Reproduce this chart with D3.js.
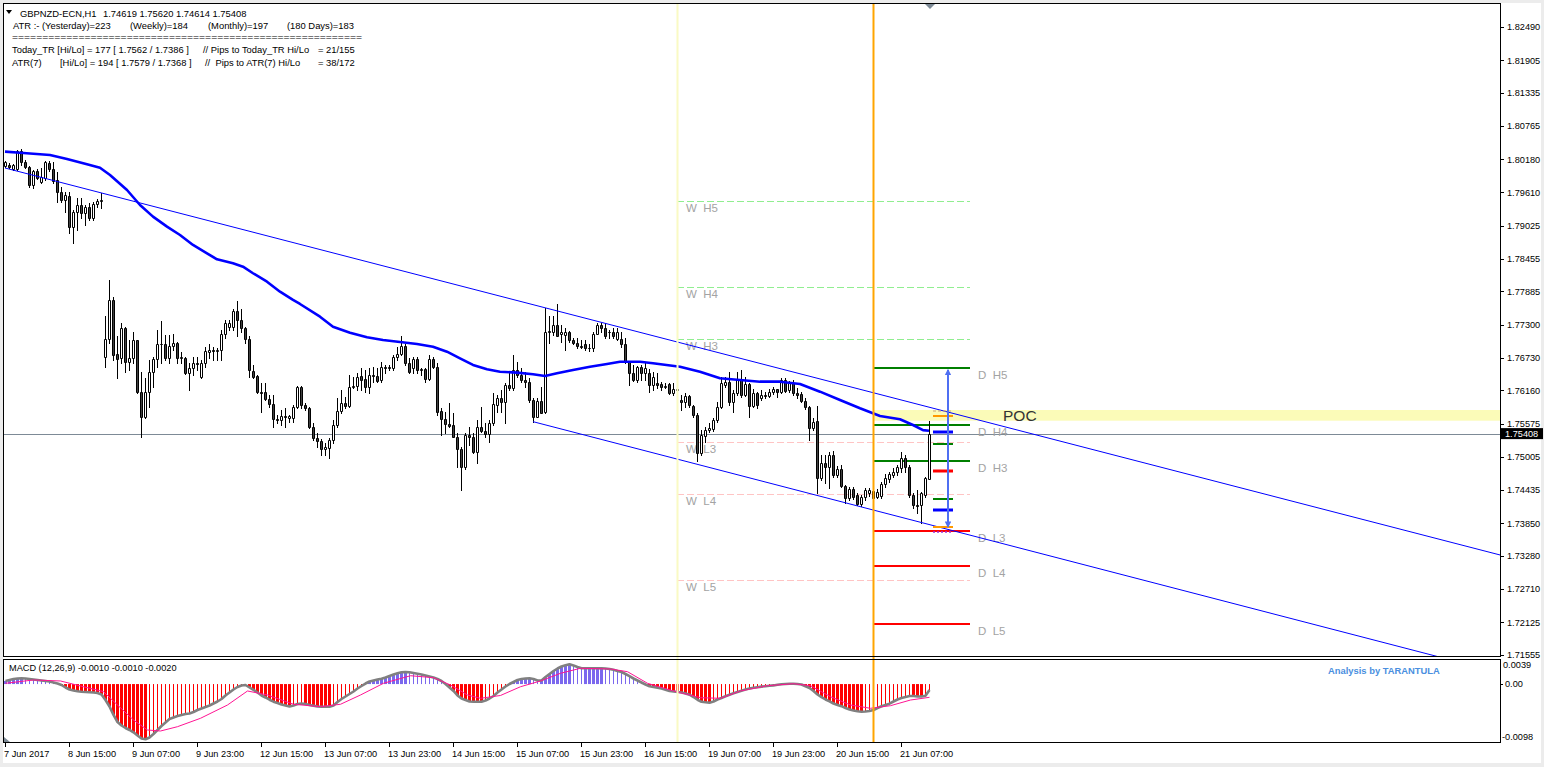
<!DOCTYPE html>
<html><head><meta charset="utf-8"><title>GBPNZD-ECN,H1</title>
<script src="https://cdn.jsdelivr.net/npm/d3@7/dist/d3.min.js"></script>
<style>html,body{margin:0;padding:0;background:#fff;overflow:hidden}
svg text{font-family:"Liberation Sans",Arial,sans-serif}</style></head>
<body><svg id="chart" width="1544" height="767"></svg>
<script>
// ---------------- DATA ----------------
const headerLines = [
  ["GBPNZD-ECN,H1", "1.74619 1.75620 1.74614 1.75408"],
  ["ATR :- (Yesterday)=223", "(Weekly)=184", "(Monthly)=197", "(180 Days)=183"],
  ["=========================================================="],
  ["Today_TR [Hi/Lo] = 177 [ 1.7562 / 1.7386 ]", "// Pips to Today_TR Hi/Lo", "= 21/155"],
  ["ATR(7)", "[Hi/Lo] = 194 [ 1.7579 / 1.7368 ]", "//  Pips to ATR(7) Hi/Lo", "= 38/172"]
];
const macdTitle = "MACD (12,26,9) -0.0010 -0.0010 -0.0020";
const brandText = "Analysis by TARANTULA";

const timeTickBars = [0,16,32,48,64,80,96,112,128,144,160,176,192,208,224];
const timeTickLabels = ["7 Jun 2017","8 Jun 15:00","9 Jun 07:00","9 Jun 23:00","12 Jun 15:00","13 Jun 07:00","13 Jun 23:00","14 Jun 15:00","15 Jun 07:00","15 Jun 23:00","16 Jun 15:00","19 Jun 07:00","19 Jun 23:00","20 Jun 15:00","21 Jun 07:00"];

const priceTicks = [1.82490,1.81905,1.81335,1.80765,1.80180,1.79610,1.79025,1.78455,1.77885,1.77300,1.76730,1.76160,1.75575,1.75005,1.74435,1.73850,1.73280,1.72710,1.72125,1.71555];
const lastPrice = 1.75408;

// MACD axis ticks (units of 0.0001)
const macdTickValues = [39, 0, -98];
const macdTickLabels = ["0.0039", "0.00", "-0.0098"];

// H1 candles [open, high, low, close]
const ohlc = [
[1.8007,1.8016,1.8005,1.8014],[1.8009,1.8012,1.8003,1.8005],[1.8002,1.8010,1.8000,1.8009],[1.8002,1.8035,1.8000,1.8033],[1.8033,1.8036,1.8009,1.8014],
[1.8014,1.8017,1.8003,1.8005],[1.8005,1.8007,1.7970,1.7974],[1.7974,1.8000,1.7968,1.7998],[1.7998,1.8002,1.7984,1.7986],[1.7979,1.8003,1.7977,1.7988],
[1.7986,1.8016,1.7982,1.8014],[1.8012,1.8016,1.7998,1.8002],[1.8002,1.8014,1.7977,1.7981],[1.7982,1.7996,1.7944,1.7961],[1.7961,1.7970,1.7944,1.7947],
[1.7947,1.7961,1.7926,1.7956],[1.7954,1.7961,1.7890,1.7900],[1.7900,1.7930,1.7872,1.7926],[1.7926,1.7951,1.7895,1.7939],[1.7939,1.7951,1.7916,1.7925],
[1.7925,1.7939,1.7904,1.7935],[1.7935,1.7942,1.7912,1.7916],[1.7916,1.7944,1.7912,1.7940],[1.7940,1.7949,1.7935,1.7946],[1.7946,1.7960,1.7933,1.7947],
[1.7675,1.7745,1.7657,1.7706],[1.7706,1.7809,1.7699,1.7773],[1.7773,1.7778,1.7669,1.7678],[1.7680,1.7710,1.7638,1.7671],[1.7673,1.7734,1.7664,1.7725],
[1.7725,1.7727,1.7648,1.7666],[1.7666,1.7704,1.7652,1.7673],[1.7673,1.7717,1.7664,1.7703],[1.7703,1.7704,1.7612,1.7613],[1.7613,1.7648,1.7535,1.7570],
[1.7570,1.7638,1.7568,1.7613],[1.7613,1.7669,1.7587,1.7648],[1.7648,1.7675,1.7622,1.7671],[1.7671,1.7722,1.7657,1.7697],[1.7697,1.7736,1.7664,1.7696],
[1.7696,1.7713,1.7669,1.7673],[1.7673,1.7713,1.7664,1.7694],[1.7694,1.7715,1.7687,1.7699],[1.7699,1.7701,1.7664,1.7673],[1.7673,1.7682,1.7664,1.7675],
[1.7673,1.7675,1.7645,1.7647],[1.7647,1.7664,1.7617,1.7655],[1.7655,1.7675,1.7643,1.7664],[1.7664,1.7675,1.7652,1.7662],[1.7640,1.7669,1.7638,1.7664],
[1.7664,1.7692,1.7657,1.7685],[1.7683,1.7696,1.7673,1.7687],[1.7687,1.7692,1.7669,1.7685],[1.7685,1.7690,1.7669,1.7687],[1.7687,1.7722,1.7669,1.7715],
[1.7715,1.7739,1.7708,1.7734],[1.7727,1.7739,1.7722,1.7734],[1.7727,1.7757,1.7722,1.7755],[1.7755,1.7771,1.7710,1.7739],[1.7739,1.7757,1.7718,1.7724],
[1.7724,1.7727,1.7699,1.7706],[1.7706,1.7710,1.7640,1.7652],[1.7650,1.7661,1.7638,1.7640],[1.7641,1.7643,1.7612,1.7613],[1.7613,1.7629,1.7578,1.7612],
[1.7613,1.7629,1.7599,1.7601],[1.7601,1.7608,1.7587,1.7592],[1.7592,1.7608,1.7552,1.7566],[1.7566,1.7573,1.7559,1.7564],[1.7564,1.7582,1.7556,1.7571],
[1.7571,1.7585,1.7552,1.7570],[1.7568,1.7573,1.7561,1.7571],[1.7568,1.7591,1.7561,1.7587],[1.7587,1.7624,1.7585,1.7622],[1.7622,1.7624,1.7585,1.7591],
[1.7591,1.7594,1.7582,1.7585],[1.7585,1.7587,1.7550,1.7552],[1.7552,1.7559,1.7529,1.7533],[1.7533,1.7542,1.7517,1.7528],[1.7528,1.7531,1.7503,1.7514],
[1.7514,1.7524,1.7503,1.7517],[1.7515,1.7533,1.7498,1.7529],[1.7529,1.7564,1.7524,1.7556],[1.7556,1.7603,1.7552,1.7580],[1.7580,1.7617,1.7577,1.7594],
[1.7594,1.7605,1.7585,1.7589],[1.7589,1.7643,1.7587,1.7622],[1.7622,1.7640,1.7620,1.7624],[1.7624,1.7647,1.7617,1.7640],[1.7641,1.7655,1.7617,1.7634],
[1.7636,1.7652,1.7613,1.7622],[1.7622,1.7655,1.7612,1.7643],[1.7643,1.7657,1.7631,1.7641],[1.7641,1.7655,1.7631,1.7633],[1.7634,1.7666,1.7631,1.7657],
[1.7657,1.7661,1.7647,1.7655],[1.7655,1.7661,1.7652,1.7657],[1.7655,1.7678,1.7652,1.7675],[1.7675,1.7692,1.7669,1.7680],[1.7680,1.7710,1.7678,1.7694],
[1.7694,1.7696,1.7661,1.7664],[1.7664,1.7673,1.7647,1.7648],[1.7655,1.7675,1.7647,1.7671],[1.7671,1.7675,1.7647,1.7652],[1.7652,1.7655,1.7643,1.7654],
[1.7654,1.7655,1.7631,1.7636],[1.7636,1.7678,1.7634,1.7671],[1.7671,1.7675,1.7655,1.7657],[1.7657,1.7664,1.7573,1.7578],[1.7580,1.7585,1.7538,1.7566],
[1.7566,1.7578,1.7542,1.7557],[1.7557,1.7594,1.7552,1.7554],[1.7556,1.7577,1.7535,1.7535],[1.7535,1.7542,1.7482,1.7514],[1.7514,1.7517,1.7442,1.7482],
[1.7482,1.7542,1.7480,1.7538],[1.7538,1.7552,1.7521,1.7535],[1.7535,1.7542,1.7507,1.7508],[1.7508,1.7564,1.7489,1.7552],[1.7552,1.7587,1.7543,1.7545],
[1.7545,1.7559,1.7535,1.7540],[1.7540,1.7564,1.7526,1.7559],[1.7559,1.7612,1.7556,1.7592],[1.7591,1.7608,1.7578,1.7603],[1.7603,1.7617,1.7578,1.7596],
[1.7596,1.7629,1.7559,1.7626],[1.7626,1.7648,1.7617,1.7620],[1.7620,1.7678,1.7617,1.7652],[1.7652,1.7666,1.7640,1.7643],[1.7643,1.7655,1.7631,1.7634],
[1.7634,1.7648,1.7622,1.7631],[1.7631,1.7638,1.7596,1.7599],[1.7599,1.7603,1.7561,1.7570],[1.7570,1.7603,1.7570,1.7598],[1.7598,1.7622,1.7577,1.7577],
[1.7578,1.7759,1.7577,1.7718],[1.7718,1.7745,1.7699,1.7720],[1.7718,1.7746,1.7713,1.7729],[1.7729,1.7767,1.7710,1.7711],[1.7715,1.7729,1.7701,1.7717],
[1.7713,1.7724,1.7687,1.7718],[1.7718,1.7720,1.7701,1.7704],[1.7704,1.7708,1.7696,1.7699],[1.7699,1.7708,1.7690,1.7694],[1.7694,1.7704,1.7690,1.7692],
[1.7696,1.7704,1.7687,1.7690],[1.7690,1.7696,1.7685,1.7689],[1.7689,1.7717,1.7685,1.7715],[1.7715,1.7734,1.7715,1.7729],[1.7729,1.7734,1.7718,1.7724],
[1.7724,1.7734,1.7708,1.7710],[1.7717,1.7722,1.7708,1.7718],[1.7718,1.7724,1.7708,1.7710],[1.7706,1.7724,1.7704,1.7717],[1.7706,1.7718,1.7692,1.7696],
[1.7696,1.7708,1.7664,1.7666],[1.7666,1.7668,1.7626,1.7647],[1.7647,1.7661,1.7633,1.7634],[1.7634,1.7659,1.7631,1.7657],[1.7657,1.7661,1.7634,1.7647],
[1.7647,1.7666,1.7634,1.7655],[1.7647,1.7654,1.7613,1.7626],[1.7626,1.7648,1.7617,1.7640],[1.7629,1.7647,1.7620,1.7626],[1.7627,1.7631,1.7617,1.7622],
[1.7622,1.7629,1.7620,1.7624],[1.7627,1.7629,1.7610,1.7612],[1.7612,1.7629,1.7608,1.7619],[1.7619,1.7622,1.7608,1.7617],[1.7599,1.7608,1.7582,1.7596],
[1.7596,1.7612,1.7587,1.7606],[1.7606,1.7608,1.7587,1.7591],[1.7589,1.7591,1.7570,1.7573],[1.7573,1.7577,1.7494,1.7507],[1.7507,1.7547,1.7503,1.7538],
[1.7536,1.7552,1.7526,1.7547],[1.7547,1.7559,1.7543,1.7550],[1.7549,1.7568,1.7545,1.7564],[1.7564,1.7596,1.7561,1.7587],[1.7587,1.7640,1.7585,1.7629],
[1.7626,1.7640,1.7622,1.7631],[1.7631,1.7648,1.7591,1.7596],[1.7596,1.7617,1.7578,1.7612],[1.7612,1.7648,1.7608,1.7634],[1.7634,1.7652,1.7605,1.7608],
[1.7608,1.7640,1.7606,1.7627],[1.7627,1.7629,1.7570,1.7589],[1.7589,1.7619,1.7587,1.7612],[1.7612,1.7613,1.7585,1.7591],[1.7603,1.7617,1.7599,1.7608],
[1.7608,1.7613,1.7603,1.7606],[1.7606,1.7619,1.7605,1.7613],[1.7613,1.7622,1.7610,1.7619],[1.7619,1.7619,1.7605,1.7613],[1.7613,1.7638,1.7612,1.7634],
[1.7634,1.7638,1.7613,1.7615],[1.7617,1.7633,1.7613,1.7629],[1.7629,1.7634,1.7608,1.7612],[1.7612,1.7620,1.7603,1.7608],[1.7610,1.7613,1.7596,1.7598],
[1.7598,1.7603,1.7584,1.7587],[1.7587,1.7589,1.7529,1.7550],[1.7550,1.7568,1.7547,1.7561],[1.7562,1.7588,1.7438,1.7464],[1.7464,1.7504,1.7460,1.7490],
[1.7490,1.7504,1.7455,1.7483],[1.7483,1.7508,1.7446,1.7504],[1.7504,1.7511,1.7466,1.7469],[1.7469,1.7485,1.7466,1.7480],[1.7480,1.7487,1.7448,1.7450],
[1.7450,1.7452,1.7420,1.7429],[1.7429,1.7448,1.7425,1.7445],[1.7445,1.7448,1.7427,1.7431],[1.7434,1.7438,1.7417,1.7418],[1.7418,1.7434,1.7415,1.7431],
[1.7431,1.7446,1.7425,1.7443],[1.7438,1.7446,1.7432,1.7443],[1.7441,1.7453,1.7422,1.7429],[1.7431,1.7445,1.7429,1.7439],[1.7432,1.7457,1.7429,1.7453],
[1.7453,1.7471,1.7448,1.7464],[1.7462,1.7474,1.7457,1.7471],[1.7469,1.7481,1.7466,1.7474],[1.7474,1.7487,1.7469,1.7483],[1.7481,1.7508,1.7474,1.7499],
[1.7499,1.7504,1.7474,1.7483],[1.7483,1.7487,1.7431,1.7434],[1.7434,1.7438,1.7411,1.7417],[1.7417,1.7443,1.7403,1.7415],[1.7417,1.7439,1.7386,1.7438],
[1.7434,1.7466,1.7431,1.7464],[1.74619,1.75620,1.74614,1.75408]
];

// moving average: [bar, price]
const maPoints = [[0,1.80315],[3.75,1.80297],[11.25,1.80257],[15.5,1.80188],[20.5,1.80096],[23.75,1.80036],[26.25,1.79909],[30.5,1.79648],[33.75,1.79387],[37,1.79184],[40.5,1.79010],[43.75,1.78865],[47,1.78691],[50.5,1.78547],[53,1.78442],[57,1.78373],[59.5,1.78313],[62,1.78199],[65.5,1.78052],[68.75,1.77878],[72,1.77734],[73.75,1.77664],[78.75,1.77443],[82,1.77269],[86.25,1.77165],[90.5,1.77085],[94.5,1.77038],[98.75,1.77003],[103,1.76968],[107,1.76921],[110.5,1.76834],[113.75,1.76719],[117,1.76603],[120.5,1.76528],[123.75,1.76486],[128,1.76469],[132,1.76441],[135,1.76411],[138,1.76458],[142,1.76516],[146.25,1.76573],[150.5,1.76620],[153.75,1.76660],[158.75,1.76660],[162,1.76632],[168.75,1.76573],[173.75,1.76486],[178.75,1.76371],[183.75,1.76342],[188.75,1.76312],[193.75,1.76312],[198.75,1.76272],[203.75,1.76138],[208.75,1.75993],[213.75,1.75849],[218.75,1.75715],[223.75,1.75657],[227,1.75558],[229.5,1.75468],[231,1.75459]];

// trend channel: [bar, price] endpoints
const upperTrend = [[0,1.80031],[373.75,1.73296]];
const lowerTrend = [[132,1.75616],[373.75,1.71246]];

// pivot levels
const weeklyNames = ["W  H5","W  H4","W  H3","W  L3","W  L4","W  L5"];
const weeklyPrices = [1.79462,1.77955,1.77050,1.75257,1.74352,1.72861];
const dailyNames = ["D  H5","D  H4","D  H3","D  L3","D  L4","D  L5"];
const dailyPrices = [1.76556,1.75558,1.74932,1.73719,1.73110,1.72100];
const weekStartBar = 168, dayStartBar = 217, levelsEndBar = 241.25;

// short level marks near the current bar
const markKinds = ["atrHi","trHi","blue","green","red","green","blue","trLo","atrLo"];
const markPrices = [1.75793,1.75720,1.75442,1.75228,1.74758,1.74270,1.74079,1.73788,1.73696];
const markFromBar = 232, markToBar = 237;
const rangeArrow = {bar: 235.75, from: 1.73788, to: 1.76516};

const pocHigh = 1.75819, pocLow = 1.75633;

// MACD main (units of 0.0001), one per candle
const macdMain = [5.2,6.9,8.6,9.4,9.7,9.4,8.6,7.7,6.9,6.0,
5.2,4.3,2.6,0.9,-1.6,-5.8,-9.2,-10.9,-12.1,-12.9,
-13.4,-13.9,-14.4,-15.1,-17.7,-27.0,-38.0,-52.3,-64.2,-70.1,
-74.3,-77.7,-81.6,-87.0,-92.1,-93.4,-90.4,-84.5,-77.7,-70.9,
-65.0,-59.1,-56.6,-54.0,-52.3,-50.6,-49.8,-47.3,-43.9,-41.3,
-38.8,-36.3,-32.9,-29.5,-25.3,-19.3,-14.3,-9.2,-5.0,-2.4,
-1.6,-5.8,-10.0,-14.3,-19.3,-22.7,-26.5,-29.8,-32.0,-34.6,
-36.3,-38.0,-36.3,-33.7,-32.9,-33.7,-35.4,-36.6,-38.0,-38.3,
-38.3,-38.3,-36.3,-30.3,-25.3,-21.0,-16.8,-12.6,-7.5,-3.3,
0.9,4.3,6.0,7.7,9.1,11.1,13.6,16.2,18.2,19.9,
20.4,19.9,18.7,17.5,16.2,14.5,12.8,11.1,8.6,5.2,
0.1,-5.8,-11.7,-19.3,-24.4,-27.0,-29.5,-29.8,-29.8,-29.8,
-27.8,-24.4,-20.2,-14.3,-9.2,-4.1,0.1,3.5,6.9,8.6,
9.4,9.7,8.6,6.0,6.0,11.9,17.0,22.1,26.3,29.7,
31.7,33.4,31.4,28.9,26.7,26.7,26.7,26.7,26.7,26.7,
26.3,25.5,24.1,22.1,20.4,17.0,13.3,9.4,6.0,2.6,
-0.7,-3.8,-5.0,-6.3,-7.5,-9.5,-11.7,-12.6,-13.4,-14.3,
-16.0,-18.0,-21.9,-26.6,-30.0,-30.9,-31.5,-29.5,-26.1,-23.6,
-20.7,-18.0,-15.6,-13.4,-11.2,-9.4,-7.5,-6.3,-5.3,-4.3,
-3.6,-2.9,-2.3,-1.3,-0.2,0.1,0.4,0.4,0.1,-0.7,
-3.8,-6.7,-11.7,-17.7,-22.2,-26.1,-29.2,-32.9,-35.4,-37.4,
-40.5,-43.0,-44.7,-46.1,-46.8,-46.4,-45.7,-43.9,-40.5,-37.6,
-35.4,-33.2,-29.5,-26.1,-23.6,-21.9,-20.2,-20.2,-21.0,-21.0,
-19.7,-10.0];

// MACD signal (units of 0.0001): [bar, value]
const macdSignal = [[0,1.3],[7,6.9],[13.75,5.2],[19.5,-4.5],[24.5,-12.9],[28,-35.4],[32,-60.8],[35.5,-77.7],[38.75,-79.4],[43,-72.1],[48.75,-57.9],[55.5,-35.4],[60.5,-11.7],[65.5,-18.5],[72,-34.2],[78.75,-38.3],[83.75,-34.2],[88.75,-18.5],[94.5,1.3],[101.25,14.1],[107,10.8],[111.25,-1.6],[115.5,-18.5],[118.75,-24.1],[123.75,-19.3],[128.75,-4.5],[133.75,5.2],[138.75,18.2],[143.75,26.7],[151.25,25.5],[155.5,20.9],[160.5,1.3],[167,-11.7],[173.75,-23.1],[178.75,-24.1],[183.75,-11.7],[190.5,-2.8],[197,0.6],[201.25,-2.8],[206.25,-21.4],[211.25,-35.4],[216.25,-41.0],[221.25,-36.6],[226.25,-27.0],[231,-22.4]];

// ---------------- DRAWING ----------------
const svg = d3.select("#chart");
const xS = d3.scaleLinear().domain([0, 231]).range([5, 929]);
const yS = d3.scaleLinear().domain([1.71555, 1.82490]).range([655, 26.7]);
const mS = d3.scaleLinear().domain([-98, 39]).range([742, 661]);
const px = v => Math.round(v) + 0.5;

svg.append("rect").attr("width",1544).attr("height",767).attr("fill","#ececec");
svg.append("rect").attr("x",3).attr("y",3).attr("width",1538).attr("height",760).attr("fill","#fff");

const defs = svg.append("defs");
defs.append("clipPath").attr("id","clipMain").append("rect").attr("x",4).attr("y",4).attr("width",1496).attr("height",652);
defs.append("clipPath").attr("id","clipSub").append("rect").attr("x",4).attr("y",660).attr("width",1496).attr("height",82);
defs.append("marker").attr("id","arrowHead").attr("viewBox","0 0 10 10").attr("refX",8).attr("refY",5)
  .attr("markerWidth",3.6).attr("markerHeight",3.2).attr("orient","auto-start-reverse")
  .append("path").attr("d","M0,0L10,5L0,10Z").attr("fill","#4f6ff2");

const main = svg.append("g").attr("clip-path","url(#clipMain)");
const sub = svg.append("g").attr("clip-path","url(#clipSub)");

// POC band
main.append("rect").attr("x",xS(dayStartBar)).attr("width",1500 - xS(dayStartBar))
  .attr("y",yS(pocHigh)).attr("height",yS(pocLow)-yS(pocHigh)).attr("fill","#fbfbb8");

// MACD histogram
const thick = i => i === 0 || Math.abs(macdMain[i]) >= Math.abs(macdMain[i-1]);
sub.append("g").selectAll("rect").data(macdMain).join("rect")
  .attr("x",(v,i)=>Math.round(xS(i)) - (thick(i)?1:0))
  .attr("width",(v,i)=>thick(i)?3:1)
  .attr("y",v=>Math.min(mS(v),mS(0)))
  .attr("height",v=>Math.abs(mS(v)-mS(0)))
  .attr("fill",v=>v>=0?"#7b68ee":"#ff0000");

// vertical session lines across both panels
const vlines = svg.append("g");
vlines.append("line").attr("x1",px(xS(weekStartBar))).attr("x2",px(xS(weekStartBar))).attr("y1",4).attr("y2",742)
  .attr("stroke","#fafac4").attr("stroke-width",2);
vlines.append("line").attr("x1",px(xS(dayStartBar))).attr("x2",px(xS(dayStartBar))).attr("y1",4).attr("y2",742)
  .attr("stroke","#ffa500").attr("stroke-width",2);

// MACD lines
sub.append("path").datum(macdMain)
  .attr("d", d3.line().x((v,i)=>xS(i)+0.5).y(v=>mS(v)))
  .attr("fill","none").attr("stroke","#808080").attr("stroke-width",2.6).attr("stroke-linejoin","round");
sub.append("path").datum(macdSignal)
  .attr("d", d3.line().x(d=>xS(d[0])+0.5).y(d=>mS(d[1])))
  .attr("fill","none").attr("stroke","#ff1493").attr("stroke-width",1);

// current price line
main.append("line").attr("x1",4).attr("x2",1500).attr("y1",px(yS(lastPrice))).attr("y2",px(yS(lastPrice)))
  .attr("stroke","#7d8a96").attr("stroke-width",1);

// weekly pivots (dashed)
const wk = main.append("g");
wk.selectAll("line").data(weeklyPrices).join("line")
  .attr("x1",xS(weekStartBar)).attr("x2",xS(levelsEndBar))
  .attr("y1",p=>px(yS(p))).attr("y2",p=>px(yS(p)))
  .attr("stroke",(p,i)=>weeklyNames[i].indexOf("H")>=0?"#90ee90":"#ffc4c4")
  .attr("stroke-width",1)
  .attr("stroke-dasharray","7,3");
wk.selectAll("text").data(weeklyPrices).join("text")
  .attr("x",xS(weekStartBar)+9).attr("y",p=>yS(p)+11)
  .attr("xml:space","preserve").style("white-space","pre")
  .attr("font-size",11.5).attr("fill","#a3a3a3").text((p,i)=>weeklyNames[i]);

// daily pivots
const dl = main.append("g");
dl.selectAll("line").data(dailyPrices).join("line")
  .attr("x1",xS(dayStartBar)).attr("x2",xS(levelsEndBar))
  .attr("y1",p=>Math.round(yS(p))).attr("y2",p=>Math.round(yS(p)))
  .attr("stroke",(p,i)=>dailyNames[i].indexOf("H")>=0?"#007f00":"#ff0000")
  .attr("stroke-width",2);
dl.selectAll("text").data(dailyPrices).join("text")
  .attr("x",xS(levelsEndBar)+8).attr("y",p=>yS(p)+11.5)
  .attr("xml:space","preserve").style("white-space","pre")
  .attr("font-size",11.5).attr("fill","#a3a3a3").text((p,i)=>dailyNames[i]);

// candles
const cg = main.append("g").selectAll("g").data(ohlc).join("g");
cg.append("line")
  .attr("x1",(d,i)=>Math.round(xS(i))+0.5).attr("x2",(d,i)=>Math.round(xS(i))+0.5)
  .attr("y1",d=>Math.round(yS(d[1]))).attr("y2",d=>Math.round(yS(d[2]))+1)
  .attr("stroke","#000").attr("stroke-width",1);
cg.append("path")
  .attr("d",(d,i)=>{
    const cx = Math.round(xS(i));
    const t = Math.round(yS(Math.max(d[0],d[3])));
    const b = Math.round(yS(Math.min(d[0],d[3])));
    return `M${cx-0.5},${t+0.5}h2v${Math.max(0,b-t)}h-2Z`;
  })
  .attr("fill",d=>d[3]>=d[0]?"#ffffff":"#404040").attr("stroke","#000").attr("stroke-width",1);

// moving average
main.append("path").datum(maPoints)
  .attr("d", d3.line().x(d=>xS(d[0])).y(d=>yS(d[1])))
  .attr("fill","none").attr("stroke","#0000ff").attr("stroke-width",2.6).attr("stroke-linejoin","round");

// trend channel
[upperTrend, lowerTrend].forEach(t=>{
  main.append("path").datum(t).attr("d", d3.line().x(d=>xS(d[0])).y(d=>yS(d[1])))
    .attr("fill","none").attr("stroke","#0000ff").attr("stroke-width",1);
});

// short marks
const markStyle = {
  atrHi:{c:"#c9a27a",w:1,dash:"3,2"}, trHi:{c:"#ff9900",w:2}, blue:{c:"#0000ff",w:3},
  green:{c:"#007f00",w:2}, red:{c:"#ff0000",w:3}, trLo:{c:"#ff9900",w:2}, atrLo:{c:"#9b30d9",w:1.5,dash:"2,2"}
};
main.append("g").selectAll("line").data(markPrices).join("line")
  .attr("x1",xS(markFromBar)).attr("x2",xS(markToBar))
  .attr("y1",p=>Math.round(yS(p))).attr("y2",p=>Math.round(yS(p)))
  .attr("stroke",(p,i)=>markStyle[markKinds[i]].c)
  .attr("stroke-width",(p,i)=>markStyle[markKinds[i]].w)
  .attr("stroke-dasharray",(p,i)=>markStyle[markKinds[i]].dash||null);

// range arrow
main.append("line").attr("x1",xS(rangeArrow.bar)).attr("x2",xS(rangeArrow.bar))
  .attr("y1",yS(rangeArrow.from)).attr("y2",yS(rangeArrow.to))
  .attr("stroke","#4f6ff2").attr("stroke-width",2)
  .attr("marker-start","url(#arrowHead)").attr("marker-end","url(#arrowHead)");

// POC label
main.append("text").attr("x",xS(dayStartBar)+130).attr("y",(yS(pocHigh)+yS(pocLow))/2+5.5)
  .attr("font-size",15.5).attr("fill","#333").text("POC");

// chart shift marker
svg.append("path").attr("d","M925,4L935,4L930,9Z").attr("fill","#7d8a96");
svg.append("path").attr("d","M4,737L4,742L10,742Z").attr("fill","#7d8a96");

// frames
svg.append("rect").attr("x",3.5).attr("y",3.5).attr("width",1497).attr("height",653).attr("fill","none").attr("stroke","#000");
svg.append("rect").attr("x",3.5).attr("y",659.5).attr("width",1497).attr("height",83).attr("fill","none").attr("stroke","#000");

// price axis
const pa = svg.append("g");
pa.selectAll("line").data(priceTicks).join("line")
  .attr("x1",1500.5).attr("x2",1504).attr("y1",p=>px(yS(p))).attr("y2",p=>px(yS(p))).attr("stroke","#000");
pa.selectAll("text").data(priceTicks).join("text")
  .attr("x",1507).attr("y",p=>yS(p)+3.4).attr("font-size",9.2).attr("fill","#000")
  .text(p=>d3.format(".5f")(p));
pa.append("rect").attr("x",1501).attr("y",yS(lastPrice)-5.5).attr("width",42).attr("height",11).attr("fill","#000");
pa.append("text").attr("x",1505).attr("y",yS(lastPrice)+3.4).attr("font-size",9.2).attr("fill","#fff")
  .text(d3.format(".5f")(lastPrice));

// MACD axis
const ma = svg.append("g");
const macdLabelShift = [4, 0, -5];
const macdLabelX = [1503, 1505, 1502];
ma.append("line").attr("x1",1500.5).attr("x2",1503).attr("y1",px(mS(0))).attr("y2",px(mS(0))).attr("stroke","#000");
ma.selectAll("text").data(macdTickValues).join("text")
  .attr("x",(v,i)=>macdLabelX[i]).attr("y",(v,i)=>mS(v)+macdLabelShift[i]+3.4)
  .attr("font-size",9.2).attr("fill","#000").text((v,i)=>macdTickLabels[i]);

// time axis
const ta = svg.append("g");
ta.selectAll("line").data(timeTickBars).join("line")
  .attr("x1",b=>px(xS(b))).attr("x2",b=>px(xS(b))).attr("y1",743).attr("y2",747).attr("stroke","#000");
ta.selectAll("text").data(timeTickBars).join("text")
  .attr("x",b=>xS(b)-1).attr("y",756.5).attr("font-size",9.2).attr("fill","#000")
  .text((b,i)=>timeTickLabels[i]);

// MACD title & brand
svg.append("text").attr("x",9).attr("y",671).attr("font-size",9.2).attr("fill","#000").text(macdTitle);
svg.append("text").attr("x",1328).attr("y",674).attr("font-size",9.4).attr("font-weight","bold").attr("fill","#4a8fe0").text(brandText);

// header block
const hdr = svg.append("g").attr("font-size",9.4).attr("fill","#000");
hdr.append("path").attr("d","M6,10L12,10L9,14Z").attr("fill","#000");
const hdrPos = [
  {y:16.5, xs:[20,103]},
  {y:28.5, xs:[13,130,208,287]},
  {y:39.5, xs:[12], len:[350]},
  {y:52.5, xs:[12,203,318]},
  {y:65.5, xs:[12,60,205,318]}
];
headerLines.forEach((segs, li)=>{
  segs.forEach((s, si)=>{
    const t = hdr.append("text").attr("x",hdrPos[li].xs[si]).attr("y",hdrPos[li].y)
      .attr("xml:space","preserve").style("white-space","pre").text(s);
    if (hdrPos[li].len) t.attr("textLength",hdrPos[li].len[si]).attr("lengthAdjust","spacingAndGlyphs");
  });
});
</script></body></html>
